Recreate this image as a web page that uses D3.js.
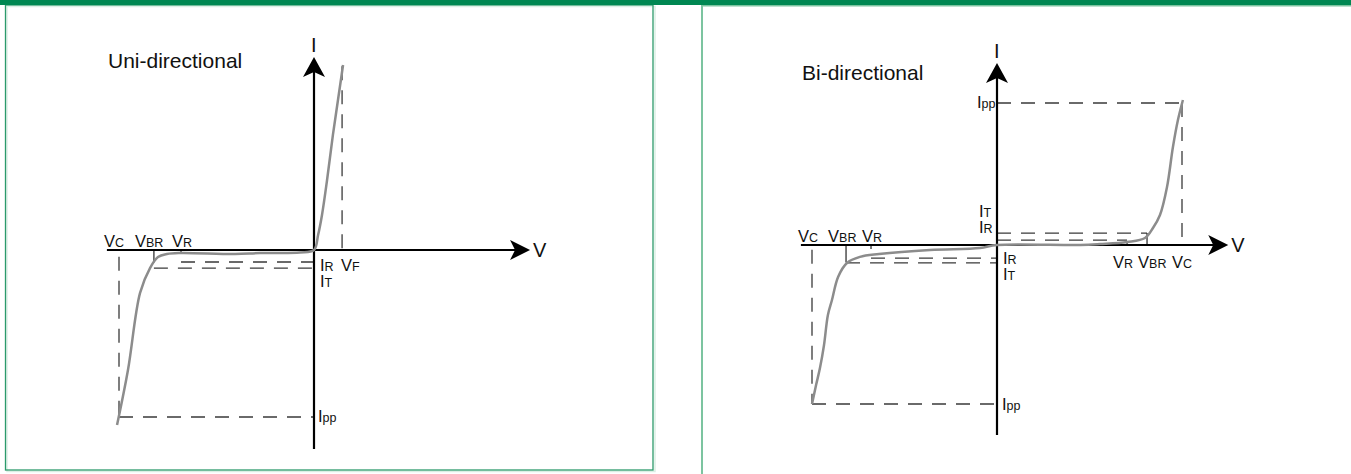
<!DOCTYPE html>
<html>
<head>
<meta charset="utf-8">
<script src="https://cdn.jsdelivr.net/npm/d3@7"></script>
<style>
  body { margin: 0; background: #fff; }
  text { font-family: "Liberation Sans", Arial, sans-serif; fill: #111; }
</style>
</head>
<body>
<script>
// in arbitrary diagram units (V, I)
const uniCurve = [[-10.1,-10.48],[-9.54,-7.19],[-8.92,-2.57],[-8.41,-1.08],[-8.0,-0.42],[-7.54,-0.24],
  [-6.87,-0.18],[-4.05,-0.24],[-2.77,-0.18],[-0.72,-0.15],[0,0],[0.21,0.9],[0.41,2.1],[0.67,4.19],
  [0.97,6.89],[1.23,8.98],[1.49,11.08]];
const uniV = { Vc: -10, VBR: -8.21, VR: -6.82, VF: 1.44 };
const uniI = { Ipp: -10, IR: -0.72, IT: -1.08, Itop: 11.0 };
const uniAxisV = [-10.62, 11.08];
const uniAxisI = [-11.92, 11.56];

const biCurve = [[-10,-10],[-9.78,-8.81],[-9.57,-7.74],[-9.35,-6.29],[-9.14,-4.4],[-8.92,-3.46],
  [-8.59,-2.01],[-8.11,-1.13],[-7.41,-0.75],[-6.38,-0.57],[-3.62,-0.31],[-0.92,-0.19],[0,0],
  [4.5,0],[5.57,0.06],[7.03,0.19],[8.0,0.44],[8.43,1.07],[8.81,1.89],[9.19,3.65],[9.51,6.16],
  [9.78,7.86],[10.05,9.12]];
const biVneg = { Vc: -10, VBR: -8.16, VR: -6.81 };
const biVpos = { Vc: 10, VBR: 8.11, VR: 7.03 };
const biIneg = { Ipp: -10, IR: -0.82, IT: -1.13 };
const biIpos = { Ipp: 8.93, IR: 0.31, IT: 0.75 };
const biAxisV = [-10.6, 12.5];
const biAxisI = [-11.95, 11.45];

const titles = ["Uni-directional", "Bi-directional"];

const svg = d3.select("body").append("svg")
  .attr("width", 1351).attr("height", 474);

// frames
svg.append("rect").attr("x", 702).attr("y", 5.5).attr("width", 700).attr("height", 500)
  .attr("fill", "none").attr("stroke", "#7cc4a0").attr("stroke-width", 2);
svg.append("rect").attr("x", 7).attr("y", 6.5).attr("width", 648).attr("height", 465)
  .attr("fill", "none").attr("stroke", "#dcefe5").attr("stroke-width", 1.5);
svg.append("rect").attr("x", 5.5).attr("y", 5).attr("width", 647.5).attr("height", 465)
  .attr("fill", "none").attr("stroke", "#2b9a6b").attr("stroke-width", 1.3);
svg.append("rect").attr("x", 0).attr("y", 0).attr("width", 1351).attr("height", 5)
  .attr("fill", "#008752");

const line = (x, y) => d3.line().x(d => x(d[0])).y(d => y(d[1]));

function label(g, px, py, main, sub) {
  const t = g.append("text").attr("x", px).attr("y", py).attr("font-size", 16.5);
  t.append("tspan").text(main);
  if (sub) t.append("tspan").attr("font-size", 12.5).text(sub);
}

function axes(g, x, y, vExt, iExt) {
  g.append("line")
    .attr("x1", x(vExt[0])).attr("x2", x(vExt[1]) - 10)
    .attr("y1", y(0)).attr("y2", y(0))
    .attr("stroke", "#000").attr("stroke-width", 2.2);
  g.append("line")
    .attr("x1", x(0)).attr("x2", x(0))
    .attr("y1", y(iExt[0])).attr("y2", y(iExt[1]) + 10)
    .attr("stroke", "#000").attr("stroke-width", 2.2);
  const tx = x(vExt[1]), ty = y(0);
  g.append("path")
    .attr("d", `M${tx},${ty} L${tx - 20},${ty - 10} L${tx - 15},${ty} L${tx - 20},${ty + 10} Z`)
    .attr("fill", "#000");
  const ux = x(0), uy = y(iExt[1]);
  g.append("path")
    .attr("d", `M${ux},${uy} L${ux - 11},${uy + 20} L${ux},${uy + 15} L${ux + 11},${uy + 20} Z`)
    .attr("fill", "#000");
  g.append("text").attr("x", tx + 3).attr("y", ty + 7).attr("font-size", 20).text("V");
  g.append("text").attr("x", ux - 3).attr("y", uy - 5).attr("font-size", 20).text("I");
}

function dashes(g, x, y, segs) {
  g.selectAll(null).data(segs).join("path")
    .attr("d", line(x, y))
    .attr("fill", "none").attr("stroke", "#3a3a3a")
    .attr("stroke-width", 1.3).attr("stroke-dasharray", "14,10");
}

function ticks(g, x, y, segs) {
  g.selectAll(null).data(segs).join("path")
    .attr("d", line(x, y))
    .attr("fill", "none").attr("stroke", "#333").attr("stroke-width", 1.3);
}

function curve(g, x, y, data) {
  g.append("path").datum(data)
    .attr("d", line(x, y).curve(d3.curveCatmullRom.alpha(0.5)))
    .attr("fill", "none").attr("stroke", "#8c8c8c").attr("stroke-width", 2.5);
}

// ---- uni-directional ----
{
  const g = svg.append("g");
  const x = d3.scaleLinear().domain([-10, 0]).range([119, 314]);
  const y = d3.scaleLinear().domain([-10, 0]).range([417, 250]);

  dashes(g, x, y, [
    [[uniV.Vc, -0.4], [uniV.Vc, uniI.Ipp]],
    [[uniV.Vc, uniI.Ipp], [0, uniI.Ipp]],
    [[uniV.VR, uniI.IR], [0, uniI.IR]],
    [[uniV.VBR, uniI.IT], [0, uniI.IT]],
    [[uniV.VF, uniI.Itop], [uniV.VF, 0]]
  ]);
  ticks(g, x, y, [
    [[uniV.VBR, 0], [uniV.VBR, -0.75]],
    [[uniV.VR, 0], [uniV.VR, -0.2]]
  ]);
  axes(g, x, y, uniAxisV, uniAxisI);
  curve(g, x, y, uniCurve);

  g.append("text").attr("x", 108).attr("y", 68).attr("font-size", 21).text(titles[0]);
  label(g, x(uniV.Vc) - 15, y(0) - 3, "V", "C");
  label(g, x(uniV.VBR) - 19, y(0) - 3, "V", "BR");
  label(g, x(uniV.VR) - 9, y(0) - 3, "V", "R");
  label(g, x(0) + 6, y(0) + 21, "I", "R");
  label(g, x(0) + 6, y(0) + 37, "I", "T");
  label(g, x(uniV.VF) - 1, y(0) + 21, "V", "F");
  label(g, x(0) + 4, y(uniI.Ipp) + 5, "I", "pp");
}

// ---- bi-directional ----
{
  const g = svg.append("g");
  const x = d3.scaleLinear().domain([-10, 10]).range([812, 1182]);
  const y = d3.scaleLinear().domain([-10, 0]).range([404, 245]);

  dashes(g, x, y, [
    [[biVneg.Vc, -0.3], [biVneg.Vc, biIneg.Ipp]],
    [[biVneg.Vc, biIneg.Ipp], [0, biIneg.Ipp]],
    [[biVneg.VR, biIneg.IR], [0, biIneg.IR]],
    [[biVneg.VBR, biIneg.IT], [0, biIneg.IT]],
    [[0, biIpos.Ipp], [biVpos.Vc, biIpos.Ipp]],
    [[biVpos.Vc, biIpos.Ipp], [biVpos.Vc, 0]],
    [[0, biIpos.IT], [biVpos.VBR, biIpos.IT]],
    [[0, biIpos.IR], [biVpos.VR, biIpos.IR]]
  ]);
  ticks(g, x, y, [
    [[biVneg.VBR, 0], [biVneg.VBR, -1.1]],
    [[biVneg.VR, 0], [biVneg.VR, -0.25]],
    [[biVpos.VBR, 0], [biVpos.VBR, biIpos.IT]],
    [[biVpos.VR, 0], [biVpos.VR, 0.2]]
  ]);
  axes(g, x, y, biAxisV, biAxisI);
  curve(g, x, y, biCurve);

  g.append("text").attr("x", 802).attr("y", 80).attr("font-size", 21).text(titles[1]);
  label(g, x(biVneg.Vc) - 14, y(0) - 3, "V", "C");
  label(g, x(biVneg.VBR) - 18, y(0) - 3, "V", "BR");
  label(g, x(biVneg.VR) - 9, y(0) - 3, "V", "R");
  label(g, x(0) + 6, y(0) + 19, "I", "R");
  label(g, x(0) + 6, y(0) + 35, "I", "T");
  label(g, x(0) - 18, y(0) - 28, "I", "T");
  label(g, x(0) - 18, y(0) - 12, "I", "R");
  label(g, x(biVpos.VR) - 14, y(0) + 23, "V", "R");
  label(g, x(biVpos.VBR) - 9, y(0) + 23, "V", "BR");
  label(g, x(biVpos.Vc) - 10, y(0) + 23, "V", "C");
  label(g, x(0) - 20, y(biIpos.Ipp) + 5, "I", "pp");
  label(g, x(0) + 5, y(biIneg.Ipp) + 6, "I", "pp");
}
</script>
</body>
</html>
